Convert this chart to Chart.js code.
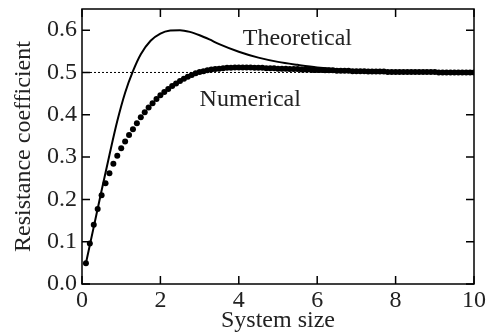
<!DOCTYPE html>
<html>
<head>
<meta charset="utf-8">
<script src="https://cdn.jsdelivr.net/npm/chart.js@4/dist/chart.umd.min.js"></script>
<style>
  html, body { margin: 0; padding: 0; background: #fff; }
  #wrap { width: 489px; height: 335px; }
</style>
</head>
<body>
<div id="wrap"><canvas id="chart"></canvas></div>
<script>
// Numerical results (dots)
const numericalSize = [
  0.1, 0.2, 0.3, 0.4, 0.5, 0.6, 0.7, 0.8, 0.9, 1.0,
  1.1, 1.2, 1.3, 1.4, 1.5, 1.6, 1.7, 1.8, 1.9, 2.0,
  2.1, 2.2, 2.3, 2.4, 2.5, 2.6, 2.7, 2.8, 2.9, 3.0,
  3.1, 3.2, 3.3, 3.4, 3.5, 3.6, 3.7, 3.8, 3.9, 4.0,
  4.1, 4.2, 4.3, 4.4, 4.5, 4.6, 4.7, 4.8, 4.9, 5.0,
  5.1, 5.2, 5.3, 5.4, 5.5, 5.6, 5.7, 5.8, 5.9, 6.0,
  6.1, 6.2, 6.3, 6.4, 6.5, 6.6, 6.7, 6.8, 6.9, 7.0,
  7.1, 7.2, 7.3, 7.4, 7.5, 7.6, 7.7, 7.8, 7.9, 8.0,
  8.1, 8.2, 8.3, 8.4, 8.5, 8.6, 8.7, 8.8, 8.9, 9.0,
  9.1, 9.2, 9.3, 9.4, 9.5, 9.6, 9.7, 9.8, 9.9, 10.0
];
const numericalCoef = [
  0.049, 0.096, 0.140, 0.177, 0.210, 0.238, 0.262, 0.284, 0.303, 0.321,
  0.337, 0.352, 0.366, 0.380, 0.394, 0.406, 0.417, 0.427, 0.437, 0.446,
  0.454, 0.461, 0.468, 0.474, 0.480, 0.485, 0.490, 0.494, 0.498, 0.501,
  0.503, 0.505, 0.507, 0.508, 0.509, 0.510, 0.511, 0.511, 0.512, 0.512,
  0.512, 0.512, 0.512, 0.511, 0.511, 0.511, 0.510, 0.510, 0.510, 0.509,
  0.509, 0.509, 0.508, 0.508, 0.508, 0.507, 0.507, 0.507, 0.506, 0.506,
  0.506, 0.505, 0.505, 0.505, 0.504, 0.504, 0.504, 0.504, 0.503, 0.503,
  0.503, 0.503, 0.502, 0.502, 0.502, 0.502, 0.502, 0.501, 0.501, 0.501,
  0.501, 0.501, 0.501, 0.501, 0.501, 0.501, 0.501, 0.501, 0.501, 0.501,
  0.500, 0.500, 0.500, 0.500, 0.500, 0.500, 0.500, 0.500, 0.500, 0.500
];

// Theoretical curve (solid line)
const theorySize = [0.1, 0.3, 0.5, 0.7, 0.9, 1.1, 1.3, 1.5, 1.75, 2.0, 2.25, 2.5, 2.75, 3.0, 3.25, 3.5, 4.0, 4.5, 5.0, 5.5, 6.0, 7.0, 8.0, 9.0, 10.0];
const theoryCoef = [0.049, 0.135, 0.221, 0.305, 0.385, 0.452, 0.503, 0.543, 0.575, 0.592, 0.599, 0.600, 0.596, 0.588, 0.578, 0.567, 0.549, 0.535, 0.525, 0.518, 0.512, 0.505, 0.502, 0.501, 0.500];

const limitCoef = 0.5;
const xTicks = [0, 2, 4, 6, 8, 10];
const yTicks = [0.0, 0.1, 0.2, 0.3, 0.4, 0.5, 0.6];

const serif = "'Liberation Serif', 'Times New Roman', serif";
const ink = "#222";

const toPoints = (xs, ys) => xs.map((x, i) => ({ x: x, y: ys[i] }));

// box, inward ticks and the two curve labels
const framePlugin = {
  id: "frame",
  afterDatasetsDraw(chart) {
    const { ctx, chartArea: a, scales } = chart;
    const len = 8;
    ctx.save();
    ctx.strokeStyle = "#000";
    ctx.lineWidth = 1.5;
    ctx.strokeRect(a.left, a.top, a.right - a.left, a.bottom - a.top);
    ctx.beginPath();
    xTicks.forEach(v => {
      const px = scales.x.getPixelForValue(v);
      ctx.moveTo(px, a.bottom);
      ctx.lineTo(px, a.bottom - len);
      ctx.moveTo(px, a.top);
      ctx.lineTo(px, a.top + len);
    });
    yTicks.forEach(v => {
      const py = scales.y.getPixelForValue(v);
      ctx.moveTo(a.left, py);
      ctx.lineTo(a.left + len, py);
      ctx.moveTo(a.right, py);
      ctx.lineTo(a.right - len, py);
    });
    ctx.stroke();

    ctx.fillStyle = ink;
    ctx.font = "24px " + serif;
    ctx.textBaseline = "alphabetic";
    ctx.textAlign = "left";
    ctx.fillText("Theoretical", scales.x.getPixelForValue(4.1), scales.y.getPixelForValue(0.565));
    ctx.fillText("Numerical", scales.x.getPixelForValue(3.0), scales.y.getPixelForValue(0.421));
    ctx.restore();
  }
};

new Chart(document.getElementById("chart"), {
  type: "scatter",
  data: {
    datasets: [
      {
        label: "Limit",
        data: toPoints([0, 10], [limitCoef, limitCoef]),
        showLine: true,
        borderColor: "#000",
        borderWidth: 1,
        borderDash: [2, 2],
        pointRadius: 0
      },
      {
        label: "Theoretical",
        data: toPoints(theorySize, theoryCoef),
        showLine: true,
        borderColor: "#000",
        borderWidth: 2,
        cubicInterpolationMode: "monotone",
        pointRadius: 0
      },
      {
        label: "Numerical",
        data: toPoints(numericalSize, numericalCoef),
        showLine: false,
        backgroundColor: "#000",
        borderColor: "#000",
        pointRadius: 3,
        borderWidth: 0
      }
    ]
  },
  options: {
    responsive: true,
    maintainAspectRatio: false,
    animation: false,
    layout: { padding: { top: 9, right: 15, left: 0, bottom: 0 } },
    plugins: {
      legend: { display: false },
      tooltip: { enabled: false }
    },
    scales: {
      x: {
        type: "linear",
        min: 0,
        max: 10,
        afterBuildTicks: s => { s.ticks = xTicks.map(v => ({ value: v })); },
        afterFit: s => { s.height = 51; s.paddingLeft = 0; s.paddingRight = 0; },
        grid: { display: false, drawTicks: false },
        border: { display: false },
        ticks: { color: ink, font: { family: serif, size: 24 }, padding: 2, maxRotation: 0 },
        title: { display: true, text: "System size", color: ink, font: { family: serif, size: 24, lineHeight: 1.0 }, padding: { top: 0, bottom: 2 } }
      },
      y: {
        type: "linear",
        min: 0,
        max: 0.65,
        afterBuildTicks: s => { s.ticks = yTicks.map(v => ({ value: v })); },
        afterFit: s => { s.width = 82; s.paddingTop = 0; s.paddingBottom = 0; },
        grid: { display: false, drawTicks: false },
        border: { display: false },
        ticks: { color: ink, font: { family: serif, size: 24 }, padding: 5, callback: v => v.toFixed(1) },
        title: { display: true, text: "Resistance coefficient", color: ink, font: { family: serif, size: 24, lineHeight: 1.0 }, padding: { top: 12, bottom: 0 } }
      }
    }
  },
  plugins: [framePlugin]
});
</script>
</body>
</html>
